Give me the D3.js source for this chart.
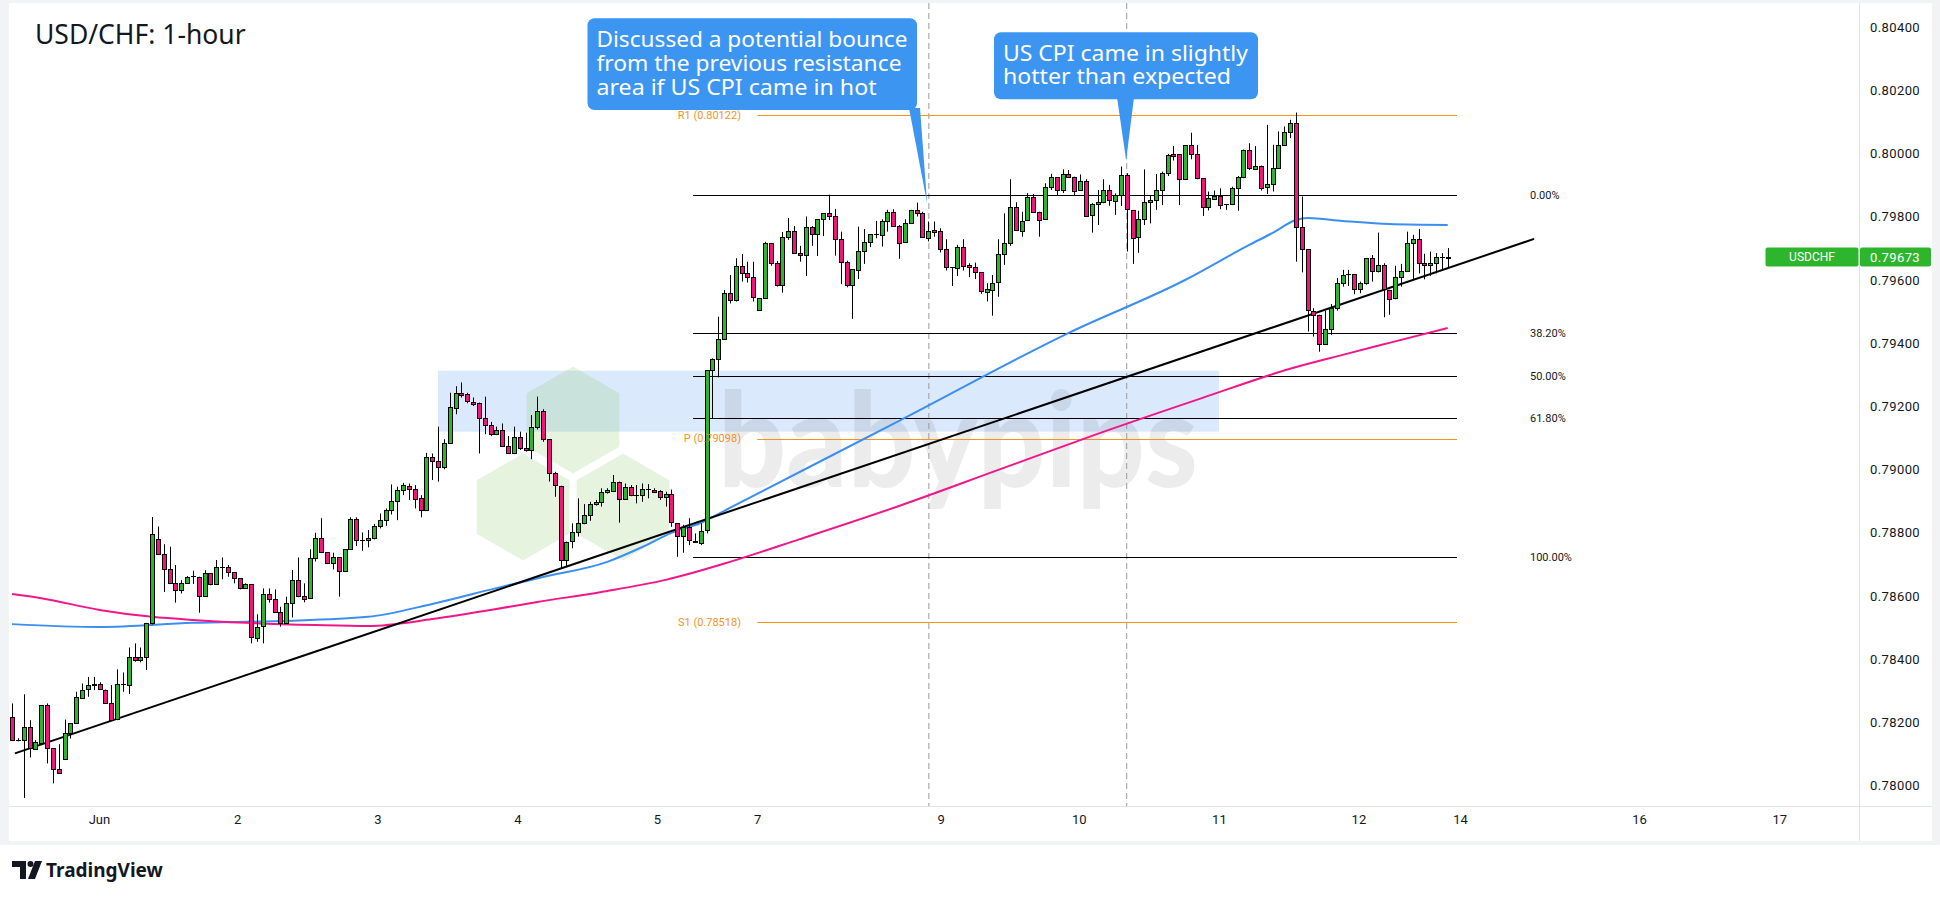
<!DOCTYPE html>
<html><head><meta charset="utf-8">
<script src="https://cdn.jsdelivr.net/npm/d3@7"></script>
<style>body{margin:0;background:#fff}svg{display:block}</style>
</head><body><svg id="c" width="1940" height="899"></svg>
<script>
// ---------- DATA ----------
const opens = [
0.78218,0.78144,0.78144,0.78186,0.78118,0.78136,0.78255,0.78118,0.78051,0.78083,
0.78165,0.78197,0.78279,0.78304,0.78316,0.78320,0.78304,0.78262,0.78209,0.78320,
0.78316,0.78406,0.78397,0.78406,0.78513,0.78780,0.78733,0.78687,0.78642,0.78621,
0.78642,0.78661,0.78661,0.78600,0.78672,0.78638,0.78693,0.78691,0.78675,0.78656,
0.78624,0.78637,0.78469,0.78503,0.78605,0.78589,0.78548,0.78513,0.78577,0.78651,
0.78601,0.78592,0.78719,0.78782,0.78738,0.78703,0.78722,0.78679,0.78748,0.78843,
0.78777,0.78777,0.78782,0.78821,0.78840,0.78872,0.78900,0.78935,0.78949,0.78940,
0.78909,0.78872,0.79039,0.79027,0.79007,0.79083,0.79197,0.79243,0.79238,0.79215,
0.79210,0.79162,0.79141,0.79112,0.79125,0.79074,0.79051,0.79102,0.79067,0.79062,
0.79134,0.79185,0.79096,0.78988,0.78949,0.78716,0.78772,0.78801,0.78830,0.78855,
0.78890,0.78896,0.78928,0.78934,0.78962,0.78909,0.78946,0.78921,0.78920,0.78940,
0.78937,0.78931,0.78912,0.78922,0.78830,0.78790,0.78817,0.78775,0.78770,0.78809,
0.79315,0.79349,0.79412,0.79558,0.79535,0.79644,0.79621,0.79609,0.79503,0.79542,
0.79716,0.79653,0.79582,0.79735,0.79754,0.79685,0.79678,0.79767,0.79745,0.79792,
0.79811,0.79801,0.79729,0.79656,0.79582,0.79634,0.79693,0.79721,0.79745,0.79745,
0.79788,0.79816,0.79772,0.79719,0.79780,0.79820,0.79811,0.79735,0.79758,0.79755,
0.79697,0.79640,0.79640,0.79706,0.79647,0.79640,0.79624,0.79563,0.79571,0.79592,
0.79681,0.79716,0.79830,0.79756,0.79788,0.79862,0.79816,0.79792,0.79893,0.79925,
0.79885,0.79935,0.79927,0.79883,0.79913,0.79803,0.79839,0.79846,0.79885,0.79851,
0.79869,0.79931,0.79822,0.79734,0.79792,0.79846,0.79853,0.79885,0.79938,0.79999,
0.79998,0.79919,0.80027,0.79999,0.79922,0.79829,0.79858,0.79866,0.79839,0.79839,
0.79890,0.79925,0.80010,0.79954,0.79962,0.79893,0.79903,0.79954,0.80028,0.80068,
0.80096,0.79767,0.79697,0.79503,0.79490,0.79397,0.79444,0.79511,0.79590,0.79618,
0.79618,0.79571,0.79590,0.79669,0.79627,0.79646,0.79569,0.79542,0.79609,0.79627,
0.79716,0.79729,0.79653,0.79646,0.79653,0.79674,0.79670];
const highs = [
0.78260,0.78150,0.78289,0.78207,0.78144,0.78255,0.78260,0.78118,0.78131,0.78209,
0.78197,0.78297,0.78323,0.78344,0.78344,0.78327,0.78304,0.78318,0.78368,0.78358,
0.78437,0.78450,0.78437,0.78515,0.78850,0.78820,0.78764,0.78756,0.78698,0.78650,
0.78663,0.78680,0.78661,0.78682,0.78672,0.78714,0.78722,0.78698,0.78675,0.78656,
0.78640,0.78637,0.78542,0.78624,0.78624,0.78621,0.78566,0.78598,0.78682,0.78722,
0.78640,0.78748,0.78800,0.78846,0.78738,0.78737,0.78722,0.78748,0.78849,0.78849,
0.78801,0.78809,0.78828,0.78861,0.78877,0.78953,0.78946,0.78958,0.78956,0.78951,
0.78919,0.79053,0.79051,0.79136,0.79096,0.79243,0.79264,0.79276,0.79243,0.79228,
0.79212,0.79231,0.79151,0.79136,0.79146,0.79106,0.79136,0.79120,0.79117,0.79173,
0.79231,0.79191,0.79096,0.78993,0.78949,0.78772,0.78830,0.78909,0.78891,0.78898,
0.78904,0.78941,0.78941,0.78983,0.78962,0.78956,0.78951,0.78951,0.78956,0.78954,
0.78941,0.78935,0.78930,0.78937,0.78830,0.78825,0.78846,0.78798,0.78830,0.79315,
0.79352,0.79484,0.79568,0.79616,0.79669,0.79682,0.79658,0.79658,0.79542,0.79721,
0.79716,0.79660,0.79752,0.79796,0.79771,0.79708,0.79801,0.79771,0.79792,0.79811,
0.79870,0.79825,0.79753,0.79661,0.79634,0.79769,0.79761,0.79745,0.79787,0.79792,
0.79822,0.79824,0.79774,0.79792,0.79822,0.79845,0.79816,0.79785,0.79785,0.79764,
0.79729,0.79640,0.79711,0.79729,0.79653,0.79655,0.79624,0.79590,0.79616,0.79729,
0.79811,0.79919,0.79846,0.79816,0.79875,0.79872,0.79816,0.79906,0.79936,0.79925,
0.79950,0.79948,0.79927,0.79934,0.79919,0.79843,0.79885,0.79919,0.79901,0.79874,
0.79959,0.79938,0.79822,0.79819,0.79950,0.79866,0.79935,0.79943,0.79999,0.80024,
0.79998,0.80027,0.80066,0.80027,0.79922,0.79880,0.79883,0.79890,0.79839,0.79895,
0.79929,0.80013,0.80033,0.80024,0.79962,0.80091,0.80028,0.80070,0.80086,0.80107,
0.80130,0.79864,0.79697,0.79511,0.79490,0.79503,0.79524,0.79606,0.79632,0.79632,
0.79618,0.79595,0.79669,0.79679,0.79750,0.79653,0.79569,0.79645,0.79651,0.79753,
0.79743,0.79761,0.79683,0.79690,0.79685,0.79685,0.79701];
const lows = [
0.78144,0.78140,0.77961,0.78089,0.78114,0.78136,0.78070,0.78007,0.78039,0.78083,
0.78149,0.78197,0.78279,0.78281,0.78302,0.78304,0.78260,0.78207,0.78207,0.78297,
0.78290,0.78392,0.78390,0.78366,0.78510,0.78733,0.78613,0.78642,0.78579,0.78608,
0.78640,0.78638,0.78547,0.78600,0.78634,0.78638,0.78653,0.78661,0.78640,0.78621,
0.78624,0.78450,0.78455,0.78450,0.78579,0.78548,0.78503,0.78513,0.78532,0.78596,
0.78580,0.78592,0.78709,0.78738,0.78703,0.78684,0.78598,0.78679,0.78748,0.78758,
0.78743,0.78754,0.78779,0.78814,0.78822,0.78858,0.78840,0.78919,0.78904,0.78877,
0.78849,0.78872,0.78967,0.78962,0.79001,0.79083,0.79175,0.79228,0.79210,0.79201,
0.79051,0.79112,0.79106,0.79109,0.79074,0.79051,0.79051,0.79062,0.79057,0.79033,
0.79127,0.79088,0.78962,0.78914,0.78687,0.78691,0.78751,0.78788,0.78827,0.78838,
0.78886,0.78883,0.78924,0.78930,0.78832,0.78907,0.78916,0.78893,0.78898,0.78909,
0.78928,0.78904,0.78883,0.78819,0.78724,0.78737,0.78761,0.78771,0.78761,0.78798,
0.79162,0.79292,0.79412,0.79526,0.79532,0.79595,0.79592,0.79532,0.79503,0.79542,
0.79645,0.79579,0.79560,0.79727,0.79685,0.79658,0.79613,0.79708,0.79676,0.79739,
0.79790,0.79677,0.79587,0.79577,0.79477,0.79603,0.79651,0.79704,0.79732,0.79706,
0.79753,0.79772,0.79667,0.79719,0.79780,0.79801,0.79735,0.79722,0.79737,0.79687,
0.79630,0.79581,0.79613,0.79630,0.79609,0.79603,0.79556,0.79532,0.79487,0.79547,
0.79648,0.79708,0.79756,0.79737,0.79788,0.79816,0.79737,0.79792,0.79885,0.79869,
0.79875,0.79925,0.79866,0.79883,0.79803,0.79750,0.79774,0.79843,0.79835,0.79806,
0.79834,0.79690,0.79651,0.79686,0.79774,0.79779,0.79822,0.79837,0.79929,0.79978,
0.79837,0.79919,0.79982,0.79919,0.79803,0.79820,0.79855,0.79824,0.79822,0.79837,
0.79819,0.79922,0.79948,0.79952,0.79883,0.79872,0.79880,0.79954,0.80028,0.80049,
0.79658,0.79624,0.79437,0.79421,0.79373,0.79397,0.79426,0.79503,0.79579,0.79581,
0.79555,0.79558,0.79585,0.79595,0.79624,0.79482,0.79490,0.79539,0.79579,0.79627,
0.79602,0.79621,0.79602,0.79613,0.79621,0.79632,0.79637];
const closes = [
0.78144,0.78145,0.78186,0.78118,0.78139,0.78255,0.78118,0.78051,0.78039,0.78165,
0.78197,0.78279,0.78304,0.78317,0.78320,0.78304,0.78262,0.78209,0.78320,0.78320,
0.78406,0.78397,0.78406,0.78513,0.78796,0.78733,0.78687,0.78642,0.78621,0.78642,
0.78661,0.78662,0.78600,0.78672,0.78638,0.78693,0.78693,0.78675,0.78656,0.78624,
0.78637,0.78469,0.78503,0.78605,0.78589,0.78548,0.78513,0.78577,0.78651,0.78601,
0.78592,0.78719,0.78782,0.78738,0.78703,0.78722,0.78679,0.78748,0.78843,0.78777,
0.78777,0.78782,0.78821,0.78840,0.78872,0.78900,0.78935,0.78951,0.78940,0.78909,
0.78872,0.79039,0.79027,0.79007,0.79083,0.79197,0.79243,0.79238,0.79215,0.79210,
0.79162,0.79141,0.79112,0.79125,0.79074,0.79051,0.79102,0.79067,0.79062,0.79134,
0.79185,0.79096,0.78988,0.78949,0.78716,0.78772,0.78801,0.78830,0.78855,0.78890,
0.78896,0.78928,0.78934,0.78962,0.78909,0.78946,0.78922,0.78921,0.78940,0.78940,
0.78931,0.78913,0.78922,0.78832,0.78790,0.78817,0.78775,0.78771,0.78807,0.79315,
0.79349,0.79412,0.79558,0.79535,0.79644,0.79621,0.79609,0.79545,0.79542,0.79716,
0.79653,0.79582,0.79735,0.79754,0.79685,0.79678,0.79767,0.79745,0.79792,0.79811,
0.79803,0.79729,0.79656,0.79582,0.79634,0.79693,0.79721,0.79745,0.79745,0.79788,
0.79816,0.79772,0.79719,0.79780,0.79820,0.79811,0.79735,0.79756,0.79753,0.79697,
0.79640,0.79640,0.79706,0.79647,0.79640,0.79624,0.79563,0.79571,0.79592,0.79681,
0.79716,0.79830,0.79756,0.79788,0.79862,0.79816,0.79792,0.79893,0.79925,0.79885,
0.79935,0.79927,0.79883,0.79913,0.79803,0.79839,0.79846,0.79885,0.79853,0.79869,
0.79931,0.79822,0.79734,0.79792,0.79846,0.79853,0.79885,0.79940,0.79996,0.79993,
0.79919,0.80027,0.79999,0.79922,0.79829,0.79858,0.79866,0.79837,0.79839,0.79890,
0.79925,0.80010,0.79953,0.79962,0.79893,0.79903,0.79954,0.80028,0.80068,0.80096,
0.79767,0.79697,0.79503,0.79490,0.79397,0.79444,0.79511,0.79590,0.79616,0.79619,
0.79571,0.79590,0.79669,0.79627,0.79646,0.79569,0.79542,0.79609,0.79627,0.79716,
0.79729,0.79653,0.79646,0.79653,0.79672,0.79674,0.79673];

// moving averages, read at bar indices
const maBlueIdx = [0,15,31,46,61,72,83,91,102,108,113,118,123,152,181,201,212,216,220,222,228,236,246];
const maBlueVal = [0.78511,0.78502,0.78515,0.78521,0.78534,0.78575,0.78625,0.78660,0.78708,0.78755,0.78800,0.78831,0.78879,0.79154,0.79432,0.79600,0.79711,0.79749,0.79790,0.79796,0.79787,0.79777,0.79774];
const maPinkIdx = [0,5,15,24,31,40,52,61,72,82,90,101,112,123,135,152,169,186,204,219,228,236,246];
const maPinkVal = [0.78606,0.78593,0.78556,0.78534,0.78524,0.78515,0.78508,0.78505,0.78527,0.78556,0.78581,0.78613,0.78651,0.78708,0.78780,0.78885,0.78999,0.79113,0.79227,0.79319,0.79363,0.79401,0.79448];

// trend line endpoints (bar index, price)
const trendIdx = [0.5, 260.8];
const trendVal = [0.78102, 0.79730];

// fibonacci retracement
const fibHigh = 0.79870, fibLow = 0.78724;
const fibLevels = [0, 0.382, 0.5, 0.618, 1];
const fibLabels = ["0.00%", "38.20%", "50.00%", "61.80%", "100.00%"];
const fibRange = [116.7, 247.6];

// pivot points
const pivotNames = ["R1", "P", "S1"];
const pivotVals = [0.80122, 0.79098, 0.78518];
const pivotRange = [127.7, 247.6];

// resistance zone
const zoneIdx = [73, 206.8];
const zoneVal = [0.79120, 0.79313];

// event lines (bar index)
const eventIdx = [157.1, 191.0];

// callouts
const callout1 = ["Discussed a potential bounce", "from the previous resistance", "area if US CPI came in hot"];
const callout2 = ["US CPI came in slightly", "hotter than expected"];

// axes
const yTickVals = [0.780,0.782,0.784,0.786,0.788,0.790,0.792,0.794,0.796,0.798,0.800,0.802,0.804];
const yTickLabels = ["0.78000","0.78200","0.78400","0.78600","0.78800","0.79000","0.79200","0.79400","0.79600","0.79800","0.80000","0.80200","0.80400"];
const xTickIdx = [14.9, 38.6, 62.6, 86.6, 110.5, 127.7, 159.1, 182.8, 206.8, 230.7, 248.1, 278.8, 302.8];
const xTickLabels = ["Jun","2","3","4","5","7","9","10","11","12","14","16","17"];
const lastPrice = 0.79673;

// ---------- DRAW ----------
const GREEN = "#2db52d", PINK = "#f5137f", BLUE = "#3b8ff0", MAG = "#f0178a", ORANGE = "#f5931f";
const svg = d3.select("#c");
const P = {l: 9, t: 3, r: 1859, b: 806};
const x = d3.scaleLinear().domain([0, 246]).range([12, 1447.7]);
const y = d3.scaleLinear().domain([0.780, 0.804]).range([785.6, 27.2]);
const FONT = "Roboto, 'Liberation Sans', Arial, sans-serif";

// frame
svg.append("rect").attr("x",0).attr("y",0).attr("width",1940).attr("height",845).attr("fill","#f2f3f5");
svg.append("rect").attr("x",0).attr("y",845).attr("width",1940).attr("height",54).attr("fill","#fff");
svg.append("rect").attr("x",P.l).attr("y",P.t).attr("width",1932-P.l).attr("height",841-P.t).attr("fill","#fff");

const defs = svg.append("defs");
defs.append("clipPath").attr("id","clip").append("rect")
  .attr("x",P.l).attr("y",P.t).attr("width",P.r-P.l).attr("height",P.b-P.t);
const g = svg.append("g").attr("clip-path","url(#clip)");

// zone
g.append("rect").attr("x",x(zoneIdx[0])).attr("width",x(zoneIdx[1])-x(zoneIdx[0]))
  .attr("y",y(zoneVal[1])).attr("height",y(zoneVal[0])-y(zoneVal[1])).attr("fill","#dbe9fc");

// watermark
const hexR = 53.5;
const hexes = [[573,420],[523,507],[623,507]];
const hexPath = ([cx,cy]) => d3.range(6).map(k => {
  const a = Math.PI/180*(60*k-90); return [cx+hexR*Math.cos(a), cy+hexR*Math.sin(a)];
});
g.selectAll("polygon.hex").data(hexes).join("polygon").attr("class","hex")
  .attr("points", d => hexPath(d).map(p=>p.join(",")).join(" "))
  .attr("fill","rgba(140,200,110,0.22)");
g.append("text").attr("x",718).attr("y",487).attr("font-family","Lato, 'Open Sans', sans-serif")
  .attr("font-weight",900).attr("font-size",132).attr("fill","rgba(0,0,0,0.075)")
  .attr("textLength",480).attr("lengthAdjust","spacingAndGlyphs").text("babypips");

// event dashed lines
g.selectAll("line.ev").data(eventIdx).join("line").attr("class","ev")
  .attr("x1",d=>x(d)).attr("x2",d=>x(d)).attr("y1",P.t).attr("y2",P.b)
  .attr("stroke","#9a9a9a").attr("stroke-width",1).attr("stroke-dasharray","6,4");

// fib lines
const fibPrice = l => fibHigh - l*(fibHigh-fibLow);
g.selectAll("line.fib").data(fibLevels).join("line").attr("class","fib")
  .attr("x1",x(fibRange[0])).attr("x2",x(fibRange[1]))
  .attr("y1",d=>Math.round(y(fibPrice(d)))+0.5).attr("y2",d=>Math.round(y(fibPrice(d)))+0.5)
  .attr("stroke","#000").attr("stroke-width",1);
// pivots
g.selectAll("line.piv").data(pivotVals).join("line").attr("class","piv")
  .attr("x1",x(pivotRange[0])).attr("x2",x(pivotRange[1]))
  .attr("y1",d=>Math.round(y(d))+0.5).attr("y2",d=>Math.round(y(d))+0.5)
  .attr("stroke",ORANGE).attr("stroke-width",1);

// moving averages
const line = d3.line().x(d=>x(d[0])).y(d=>y(d[1])).curve(d3.curveMonotoneX);
g.append("path").attr("d",line(d3.zip(maBlueIdx,maBlueVal))).attr("fill","none").attr("stroke",BLUE).attr("stroke-width",2);
g.append("path").attr("d",line(d3.zip(maPinkIdx,maPinkVal))).attr("fill","none").attr("stroke",MAG).attr("stroke-width",2);

// trend line
g.append("line").attr("x1",x(trendIdx[0])).attr("y1",y(trendVal[0])).attr("x2",x(trendIdx[1])).attr("y2",y(trendVal[1]))
  .attr("stroke","#000").attr("stroke-width",2);

// candles
const bars = opens.map((o,i)=>({i,o,h:highs[i],l:lows[i],c:closes[i]}));
const cg = g.append("g");
cg.selectAll("line.wick").data(bars).join("line").attr("class","wick")
  .attr("x1",d=>Math.round(x(d.i))+0.5).attr("x2",d=>Math.round(x(d.i))+0.5)
  .attr("y1",d=>y(d.h)).attr("y2",d=>y(d.l)).attr("stroke","#000").attr("stroke-width",1);
cg.selectAll("rect.body").data(bars).join("rect").attr("class","body")
  .attr("x",d=>Math.round(x(d.i))-1.5).attr("width",4)
  .attr("y",d=>Math.round(y(Math.max(d.o,d.c)))+0.5)
  .attr("height",d=>Math.max(0.01,Math.round(Math.abs(y(d.o)-y(d.c)))))
  .attr("fill",d=>d.c>=d.o?GREEN:PINK).attr("stroke","#000").attr("stroke-width",1);

// fib labels
svg.selectAll("text.fibl").data(fibLevels).join("text").attr("class","fibl")
  .attr("x",1530).attr("y",d=>y(fibPrice(d))).attr("dy","0.35em")
  .attr("font-family",FONT).attr("font-size",11).attr("fill","#131722")
  .text((d,i)=>fibLabels[i]);
// pivot labels
svg.selectAll("text.pivl").data(pivotVals).join("text").attr("class","pivl")
  .attr("x",741).attr("y",d=>y(d)).attr("dy","0.35em").attr("text-anchor","end")
  .attr("font-family",FONT).attr("font-size",11).attr("fill",ORANGE)
  .text((d,i)=>`${pivotNames[i]} (${d.toFixed(5)})`);

// callouts
function callout(lines, box, tipIdx, tipVal, tail, widths, baselines, tx) {
  const cgr = svg.append("g");
  cgr.append("rect").attr("x",box[0]).attr("y",box[1]).attr("width",box[2]-box[0]).attr("height",box[3]-box[1])
    .attr("rx",7).attr("fill","#3d95f2");
  cgr.append("polygon").attr("points",`${tail[0]},${box[3]-2} ${tail[1]},${box[3]-2} ${x(tipIdx)},${y(tipVal)}`).attr("fill","#3d95f2");
  cgr.selectAll("text").data(lines).join("text").attr("x",tx).attr("y",(d,i)=>baselines[i])
    .attr("font-family","'Noto Sans', 'Open Sans', sans-serif").attr("font-size",21).attr("fill","#fff")
    .attr("textLength",(d,i)=>widths[i]).attr("lengthAdjust","spacingAndGlyphs").text(d=>d);
}
callout(callout1,[587.5,18.3,917,110],156.8,0.79843,[909,920],[311,305,280],[46.5,71,94.5],596.5);
callout(callout2,[994,32.3,1258,99.3],190.9,0.79979,[1117,1134],[245,228],[61,83.5],1003);

// axis separators
svg.append("line").attr("x1",P.l).attr("x2",1932).attr("y1",806.5).attr("y2",806.5).attr("stroke","#e0e3eb");
svg.append("line").attr("x1",1859.5).attr("x2",1859.5).attr("y1",P.t).attr("y2",841).attr("stroke","#e0e3eb");

// y axis
const yAxis = d3.axisRight(y).tickValues(yTickVals).tickFormat((d,i)=>yTickLabels[i]).tickSize(0).tickPadding(10);
svg.append("g").attr("transform","translate(1860,0)").call(yAxis)
  .call(a=>a.select(".domain").remove())
  .selectAll("text").attr("font-family",FONT).attr("font-size",13).attr("fill","#131722").attr("letter-spacing","0.4px");
// x axis
const xAxis = d3.axisBottom(x).tickValues(xTickIdx).tickFormat((d,i)=>xTickLabels[i]).tickSize(0).tickPadding(9);
svg.append("g").attr("transform","translate(0,806)").call(xAxis)
  .call(a=>a.select(".domain").remove())
  .selectAll("text").attr("font-family",FONT).attr("font-size",13).attr("fill","#131722");

// last price tag
const ly = y(lastPrice);
svg.append("rect").attr("x",1765.5).attr("y",ly-9.5).attr("width",93).attr("height",19).attr("rx",2).attr("fill",GREEN);
svg.append("text").attr("x",1812).attr("y",ly).attr("dy","0.36em").attr("text-anchor","middle")
  .attr("font-family",FONT).attr("font-size",12).attr("fill","#fff").text("USDCHF");
svg.append("rect").attr("x",1860).attr("y",ly-9.5).attr("width",71).attr("height",19).attr("rx",2).attr("fill",GREEN);
svg.append("text").attr("x",1870).attr("y",ly).attr("dy","0.36em")
  .attr("font-family",FONT).attr("font-size",13).attr("fill","#fff").attr("letter-spacing","0.4px").text(lastPrice.toFixed(5));

// title
svg.append("text").attr("x",35).attr("y",44).attr("font-family","'Noto Sans', 'Open Sans', sans-serif")
  .attr("font-size",26.5).attr("fill","#131722").text("USD/CHF: 1-hour");

// TradingView logo
const lg = svg.append("g").attr("fill","#131722");
lg.append("path").attr("d","M12,861 H26 V879 H20 V867 H12 Z");
lg.append("circle").attr("cx",30.5).attr("cy",864).attr("r",3);
lg.append("path").attr("d","M35,861 H42 L35,879 H28 Z");
svg.append("text").attr("x",46).attr("y",877).attr("font-family","'Noto Sans', 'Open Sans', sans-serif")
  .attr("font-weight",700).attr("font-size",19).attr("fill","#131722").text("TradingView");
</script>
</body></html>
